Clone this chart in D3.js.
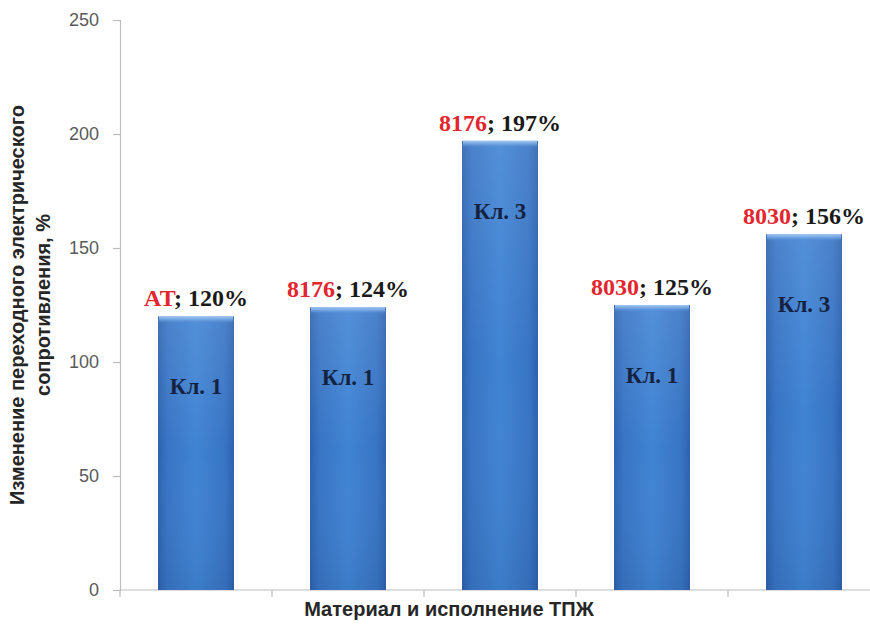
<!DOCTYPE html>
<html>
<head>
<meta charset="utf-8">
<script src="https://cdn.jsdelivr.net/npm/d3@7"></script>
<style>
  html, body { margin: 0; padding: 0; background: #fff; }
  svg { display: block; }
</style>
</head>
<body>
<svg id="chart" width="870" height="624"></svg>
<script>
// Материал (код) и класс исполнения ТПЖ, изменение сопротивления в %
const materials = ["AT", "8176", "8176", "8030", "8030"];
const classes   = ["Кл. 1", "Кл. 1", "Кл. 3", "Кл. 1", "Кл. 3"];
const values    = [120, 124, 197, 125, 156];
const yTicks    = [0, 50, 100, 150, 200, 250];
const yTitleLines = ["Изменение переходного электрического", "сопротивления, %"];
const xTitle = "Материал и исполнение ТПЖ";

const svg = d3.select("#chart");
const margin = { left: 120, top: 20, bottom: 34 };
const plotRight = 880;
const H = 624;

const idx = values.map((_, i) => i);
const x = d3.scaleBand().domain(idx).range([margin.left, plotRight])
  .paddingInner(0.5).paddingOuter(0.25);
const y = d3.scaleLinear().domain([0, 250]).range([H - margin.bottom, margin.top]);

// gradients for the bevelled bars
const defs = svg.append("defs");
const gH = defs.append("linearGradient").attr("id", "barH").attr("x1", 0).attr("x2", 1).attr("y1", 0).attr("y2", 0);
[[0, "#2c62ae"], [0.12, "#3874c4"], [0.5, "#4084d4"], [0.88, "#3874c4"], [1, "#2c62ae"]]
  .forEach(([o, c]) => gH.append("stop").attr("offset", o).attr("stop-color", c));
const gV = defs.append("linearGradient").attr("id", "barV").attr("x1", 0).attr("x2", 0).attr("y1", 0).attr("y2", 1);
[[0, "#ffffff", 0.10], [0.5, "#ffffff", 0], [1, "#000000", 0.06]]
  .forEach(([o, c, a]) => gV.append("stop").attr("offset", o).attr("stop-color", c).attr("stop-opacity", a));
const gTop = defs.append("linearGradient").attr("id", "barTop").attr("x1", 0).attr("x2", 0).attr("y1", 0).attr("y2", 1);
[[0, "#a9cdf4", 0.95], [0.5, "#78aae6", 0.7], [1, "#4a88d6", 0]]
  .forEach(([o, c, a]) => gTop.append("stop").attr("offset", o).attr("stop-color", c).attr("stop-opacity", a));

// y axis
const yAxis = d3.axisLeft(y).tickValues(yTicks).tickSize(7).tickPadding(14);
const gy = svg.append("g").attr("transform", `translate(${margin.left},0)`).call(yAxis);
gy.select(".domain").attr("stroke", "#bdbdbd").attr("stroke-width", 1.2);
gy.selectAll(".tick line").attr("stroke", "#bdbdbd").attr("stroke-width", 1.2);
gy.selectAll(".tick text")
  .attr("fill", "#5a5a5a")
  .style("font-family", "'Liberation Sans', Arial, sans-serif")
  .style("font-size", "18px");

// x axis: tick marks at category boundaries
const gx = svg.append("g").attr("transform", `translate(0,${y(0)})`);
gx.append("line").attr("x1", margin.left).attr("x2", plotRight).attr("y1", 0).attr("y2", 0)
  .attr("stroke", "#bdbdbd").attr("stroke-width", 1.2);
const bounds = idx.map(i => x(i) - x.step() * x.paddingInner() / 2).concat([plotRight]);
gx.selectAll("line.tk").data(bounds).join("line").attr("class", "tk")
  .attr("x1", d => d).attr("x2", d => d).attr("y1", 0).attr("y2", 7)
  .attr("stroke", "#bdbdbd").attr("stroke-width", 1.2);

// bars
const bars = svg.append("g").selectAll("g.bar").data(idx).join("g").attr("class", "bar");
bars.append("rect")
  .attr("x", i => x(i)).attr("width", x.bandwidth())
  .attr("y", i => y(values[i])).attr("height", i => y(0) - y(values[i]))
  .attr("fill", "url(#barH)");
bars.append("rect")
  .attr("x", i => x(i)).attr("width", x.bandwidth())
  .attr("y", i => y(values[i])).attr("height", i => y(0) - y(values[i]))
  .attr("fill", "url(#barV)");
bars.append("rect")
  .attr("x", i => x(i) + 1).attr("width", x.bandwidth() - 2)
  .attr("y", i => y(values[i])).attr("height", 7)
  .attr("fill", "url(#barTop)");

// value labels above bars: material (red) ; value (black)
const lab = svg.append("g").selectAll("text.val").data(idx).join("text").attr("class", "val")
  .attr("x", i => x(i) + x.bandwidth() / 2)
  .attr("y", i => y(values[i]) - 10)
  .attr("text-anchor", "middle")
  .style("font-family", "'Liberation Serif', 'Times New Roman', serif")
  .style("font-weight", "bold")
  .style("font-size", "24px");
lab.append("tspan").attr("fill", "#e3262e").text(i => materials[i]);
lab.append("tspan").attr("fill", "#1a1a1a").text(i => "; " + values[i] + "%");

// class labels inside bars
svg.append("g").selectAll("text.cls").data(idx).join("text").attr("class", "cls")
  .attr("x", i => x(i) + x.bandwidth() / 2)
  .attr("y", i => y(values[i]) + 70)
  .attr("dy", "0.35em")
  .attr("text-anchor", "middle")
  .attr("fill", "#15223f")
  .style("font-family", "'Liberation Serif', 'Times New Roman', serif")
  .style("font-weight", "bold")
  .style("font-size", "23px")
  .text(i => classes[i]);

// axis titles
const yt = svg.append("text")
  .attr("transform", "translate(0,305) rotate(-90)")
  .attr("text-anchor", "middle")
  .attr("fill", "#262626")
  .style("font-family", "'Liberation Sans', Arial, sans-serif")
  .style("font-weight", "bold")
  .style("font-size", "20px");
yt.selectAll("tspan").data(yTitleLines).join("tspan")
  .attr("x", 0).attr("y", (d, i) => 24 + i * 26)
  .text(d => d);

svg.append("text")
  .attr("x", 449).attr("y", 616)
  .attr("text-anchor", "middle")
  .attr("fill", "#262626")
  .style("font-family", "'Liberation Sans', Arial, sans-serif")
  .style("font-weight", "bold")
  .style("font-size", "20px")
  .text(xTitle);
</script>
</body>
</html>
